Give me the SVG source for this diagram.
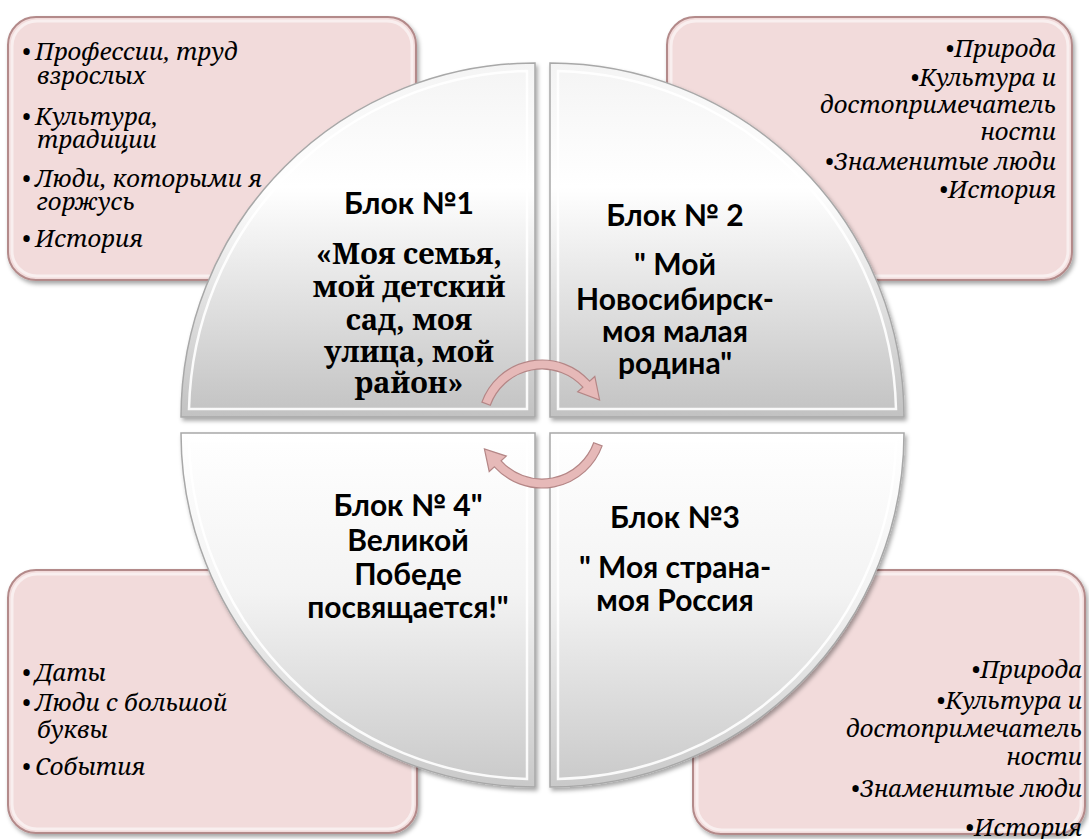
<svg xmlns="http://www.w3.org/2000/svg" width="1089" height="839" viewBox="0 0 1089 839">
<defs>
<filter id="sh" x="-10%" y="-10%" width="120%" height="120%">
<feDropShadow dx="2" dy="3" stdDeviation="2" flood-color="#000" flood-opacity="0.35"/>
</filter>
<linearGradient id="gTop" x1="0" y1="0" x2="0" y2="1">
<stop offset="0" stop-color="#f4f4f4"/>
<stop offset="0.35" stop-color="#ffffff"/>
<stop offset="1" stop-color="#c2c2c2"/>
</linearGradient>
<linearGradient id="gBot" x1="0" y1="0" x2="0" y2="1">
<stop offset="0" stop-color="#ffffff"/>
<stop offset="0.45" stop-color="#f3f3f3"/>
<stop offset="1" stop-color="#c9c9c9"/>
</linearGradient>
</defs>
<style>
.box{fill:#f2dbdb;stroke:#b38a8a;stroke-width:2;filter:url(#sh)}
.boxin{fill:none;stroke:#ffffff;stroke-opacity:0.55;stroke-width:3}
.q{stroke:#a8a8a8;stroke-width:1.5;filter:url(#sh)}
.qin{fill:none;stroke:#ffffff;stroke-width:2.5;stroke-opacity:0.9}
.li{font-family:"Noto Serif","DejaVu Serif",serif;font-style:italic;font-size:24px;fill:#000}
.r{text-anchor:end}
.hd{font-family:Lato,"Liberation Sans",sans-serif;font-weight:bold;font-size:30px;text-anchor:middle;fill:#000}
.sb{font-family:"Noto Serif","DejaVu Serif",serif;font-weight:bold;font-size:29px;text-anchor:middle;fill:#000}
.arr{fill:#e6b9b8;stroke:#b48686;stroke-width:1.2}
</style>
<rect width="1089" height="839" fill="#fff"/>

<g id="box-tl">
<rect class="box" x="8" y="17" width="408" height="263" rx="28"/>
<rect class="boxin" x="12" y="21" width="400" height="255" rx="25"/>
<text class="li" x="22" y="60">•<tspan x="35">Профессии, труд</tspan></text>
<text class="li" x="37" y="84">взрослых</text>
<text class="li" x="22" y="125">•<tspan x="35">Культура,</tspan></text>
<text class="li" x="37" y="148">традиции</text>
<text class="li" x="22" y="187">•<tspan x="35">Люди, которыми я</tspan></text>
<text class="li" x="37" y="210">горжусь</text>
<text class="li" x="22" y="247">•<tspan x="35">История</tspan></text>
</g>

<g id="box-tr">
<rect class="box" x="667" y="17" width="405" height="263" rx="28"/>
<rect class="boxin" x="671" y="21" width="397" height="255" rx="25"/>
<text class="li r" x="1056" y="57">•Природа</text>
<text class="li r" x="1056" y="86">•Культура и</text>
<text class="li r" x="1056" y="113">достопримечатель</text>
<text class="li r" x="1056" y="140">ности</text>
<text class="li r" x="1056" y="170">•Знаменитые люди</text>
<text class="li r" x="1056" y="198">•История</text>
</g>

<g id="box-bl">
<rect class="box" x="8" y="570" width="409" height="263" rx="28"/>
<rect class="boxin" x="12" y="574" width="401" height="255" rx="25"/>
<text class="li" x="22" y="681">•<tspan x="35">Даты</tspan></text>
<text class="li" x="22" y="711">•<tspan x="35">Люди с большой</tspan></text>
<text class="li" x="37" y="738">буквы</text>
<text class="li" x="22" y="775">•<tspan x="35">События</tspan></text>
</g>

<g id="box-br">
<rect class="box" x="693" y="570" width="392" height="264" rx="28"/>
<rect class="boxin" x="697" y="574" width="384" height="256" rx="25"/>
<text class="li r" x="1082" y="678">•Природа</text>
<text class="li r" x="1082" y="709">•Культура и</text>
<text class="li r" x="1082" y="737">достопримечатель</text>
<text class="li r" x="1082" y="765">ности</text>
<text class="li r" x="1082" y="797">•Знаменитые люди</text>
<text class="li r" x="1082" y="836">•История</text>
</g>

<g id="block-1">
<path class="q" fill="url(#gTop)" d="M 535 417 L 181 417 A 354 354 0 0 1 535 63 Z"/>
<path class="qin" d="M 527 409 L 189 409 A 346 346 0 0 1 527 71 Z"/>
<text class="hd" x="409" y="214">Блок №1</text>
<text class="sb" x="409" y="264">«Моя семья,</text>
<text class="sb" x="409" y="297">мой детский</text>
<text class="sb" x="409" y="330">сад, моя</text>
<text class="sb" x="409" y="362">улица, мой</text>
<text class="sb" x="409" y="393">район»</text>
</g>

<g id="block-2">
<path class="q" fill="url(#gTop)" d="M 550 417 L 550 63 A 354 354 0 0 1 904 417 Z"/>
<path class="qin" d="M 558 409 L 558 71 A 346 346 0 0 1 896 409 Z"/>
<text class="hd" x="675" y="226">Блок № 2</text>
<text class="hd" x="675" y="275">" Мой</text>
<text class="hd" x="675" y="310">Новосибирск-</text>
<text class="hd" x="675" y="342">моя малая</text>
<text class="hd" x="675" y="374">родина"</text>
</g>

<g id="block-3">
<path class="q" fill="url(#gBot)" d="M 550 433 L 904 433 A 354 354 0 0 1 550 787 Z"/>
<path class="qin" d="M 558 441 L 896 441 A 346 346 0 0 1 558 779 Z"/>
<text class="hd" x="675" y="528">Блок №3</text>
<text class="hd" x="675" y="578">" Моя страна-</text>
<text class="hd" x="675" y="611">моя Россия</text>
</g>

<g id="block-4">
<path class="q" fill="url(#gBot)" d="M 535 433 L 535 787 A 354 354 0 0 1 181 433 Z"/>
<path class="qin" d="M 527 441 L 527 779 A 346 346 0 0 1 189 441 Z"/>
<text class="hd" x="408" y="516">Блок № 4"</text>
<text class="hd" x="408" y="551">Великой</text>
<text class="hd" x="408" y="585">Победе</text>
<text class="hd" x="408" y="618">посвящается!"</text>
</g>

<g id="connectors">
<path class="arr" d="M 481.9 402.1 A 64 64 0 0 1 589.6 381.2 L 594.8 376.5 L 599.6 400 L 577.7 391.9 L 582.9 387.2 A 55 55 0 0 0 490.3 405.2 Z"/>
<path class="arr" d="M 602.1 445.9 A 64 64 0 0 1 494.4 466.8 L 489.2 471.5 L 484.4 449 L 506.3 456.1 L 501.1 460.8 A 55 55 0 0 0 593.7 442.8 Z"/>
</g>
</svg>
